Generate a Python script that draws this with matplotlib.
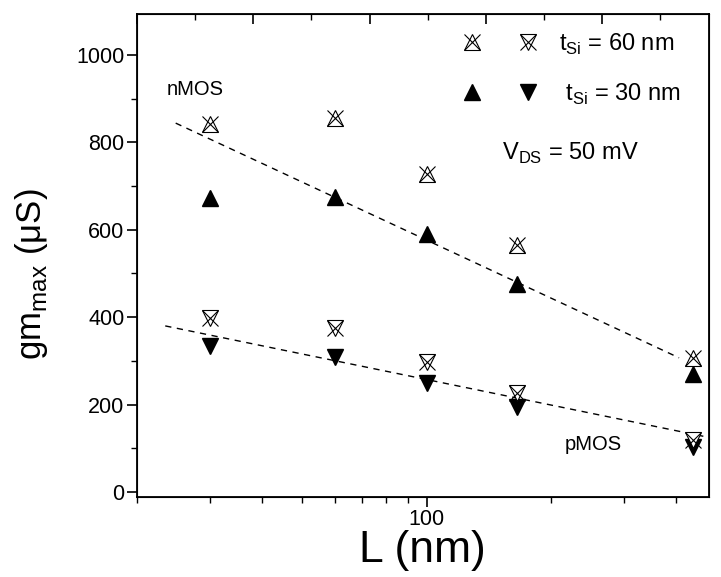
import numpy as np
import matplotlib
matplotlib.use('Agg')
import matplotlib.pyplot as plt
from matplotlib.legend_handler import HandlerTuple
from matplotlib.lines import Line2D

plt.rcParams['font.family'] = ['Liberation Sans', 'DejaVu Sans']
plt.rcParams['mathtext.fontset'] = 'custom'
plt.rcParams['mathtext.rm'] = 'Liberation Sans'

# Gate lengths (nm)
L_nm = [30, 60, 100, 165, 440]

# gm_max (uS)
n_60 = [842, 855, 727, 566, 307]
n_30 = [672, 675, 590, 475, 270]
p_60 = [398, 375, 297, 227, 119]
p_30 = [335, 310, 250, 195, 103]

# dashed trend lines (end points)
n_fit_L = [24.8, 407]
n_fit_g = [844, 307]
p_fit_L = [23.4, 474]
p_fit_g = [380, 126]

fig = plt.figure(figsize=(7.21, 5.77), dpi=100)
ax = fig.add_axes([0.190, 0.139, 0.793, 0.837])

dash = (0, (4.5, 4))
ax.plot(n_fit_L, n_fit_g, ls=dash, color='black', lw=1.0)
ax.plot(p_fit_L, p_fit_g, ls=dash, color='black', lw=1.0)

ms = 12
ax.plot(L_nm, n_30, '^', color='black', ms=ms, ls='none')
ax.plot(L_nm, p_30, 'v', color='black', ms=ms, ls='none')
ax.plot(L_nm, n_60, '^', mfc='white', mec='black', mew=0.8, ms=ms, ls='none')
ax.plot(L_nm, n_60, 'x', color='black', mew=0.8, ms=ms, ls='none')
ax.plot(L_nm, p_60, 'v', mfc='white', mec='black', mew=0.8, ms=ms, ls='none')
ax.plot(L_nm, p_60, 'x', color='black', mew=0.8, ms=ms, ls='none')

ax.set_xscale('log')
ax.set_xlim(20, 480)
ax.set_ylim(-11, 1094)
ax.set_xticks([100])
ax.set_xticklabels(['100'])
ax.set_xticks([20, 30, 40, 50, 60, 70, 80, 90, 200, 300, 400], minor=True)
ax.xaxis.set_minor_formatter(plt.NullFormatter())
ax.set_yticks([0, 200, 400, 600, 800, 1000])
ax.set_yticks(np.arange(100, 1001, 200), minor=True)

ax.tick_params(axis='both', which='major', direction='out', length=7, width=1.2,
               labelsize=15.5, pad=2, top=False, right=False)
ax.tick_params(axis='both', which='minor', direction='out', length=4, width=1.0,
               top=False, right=False)
for s in ax.spines.values():
    s.set_linewidth(1.3)

# top axis ticks (linear, unlabelled)
top = ax.twiny()
top.set_xlim(0, 9.83)
top.set_xticks([0, 2, 4, 6, 8])
top.set_xticks([1, 3, 5, 7, 9], minor=True)
top.tick_params(axis='x', which='major', direction='in', length=7, width=1.2, labeltop=False)
top.tick_params(axis='x', which='minor', direction='in', length=4, width=1.0)

ax.set_xlabel('L (nm)', fontsize=32, labelpad=0)
ax.set_ylabel(r'gm$_{\mathregular{max}}$ ($\mathregular{\mu}$S)', fontsize=25)
ax.yaxis.set_label_coords(-0.152, 0.46)

ax.text(0.052, 0.832, 'nMOS', transform=ax.transAxes, fontsize=14.5, va='baseline')
ax.text(0.748, 0.097, 'pMOS', transform=ax.transAxes, fontsize=14.5, va='baseline')
ax.text(0.638, 0.698, r'V$_{\mathregular{DS}}$ = 50 mV', transform=ax.transAxes,
        fontsize=17, va='baseline')


class Overlay(tuple):
    pass


h_n60 = Overlay((Line2D([], [], marker='^', mfc='white', mec='black', mew=0.8, ms=ms, ls='none'),
                 Line2D([], [], marker='x', color='black', mew=0.8, ms=ms, ls='none')))
h_p60 = Overlay((Line2D([], [], marker='v', mfc='white', mec='black', mew=0.8, ms=ms, ls='none'),
                 Line2D([], [], marker='x', color='black', mew=0.8, ms=ms, ls='none')))
h_n30 = Line2D([], [], marker='^', color='black', ms=ms, ls='none')
h_p30 = Line2D([], [], marker='v', color='black', ms=ms, ls='none')

leg = ax.legend([(h_n60, h_p60), (h_n30, h_p30)],
                [r't$_{\mathregular{Si}}$ = 60 nm', r' t$_{\mathregular{Si}}$ = 30 nm'],
                handler_map={Overlay: HandlerTuple(ndivide=1),
                             tuple: HandlerTuple(ndivide=None, pad=0)},
                loc='upper left', bbox_to_anchor=(0.537, 0.963), frameon=False,
                borderpad=0, borderaxespad=0,
                fontsize=17, handlelength=4.75, handletextpad=0.1, labelspacing=1.05)

fig.savefig('out.png', dpi=100)
